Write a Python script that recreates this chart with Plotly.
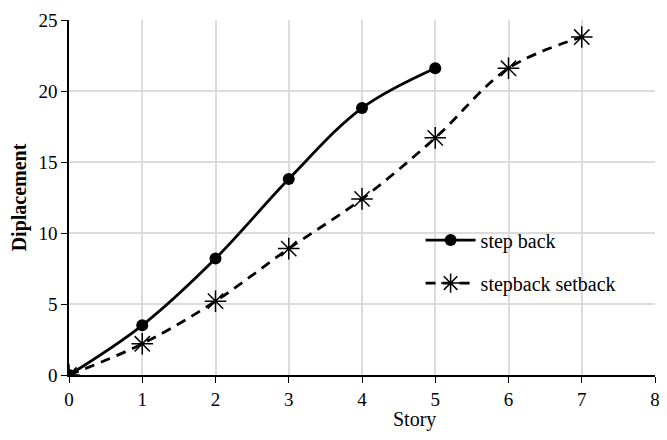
import plotly.graph_objects as go

stories_a = [0, 1, 2, 3, 4, 5]
step_back = [0, 3.5, 8.2, 13.8, 18.8, 21.6]
stories_b = [0, 1, 2, 3, 4, 5, 6, 7]
stepback_setback = [0, 2.2, 5.2, 8.9, 12.4, 16.7, 21.6, 23.8]

fig = go.Figure()
fig.add_trace(go.Scatter(x=stories_a, y=step_back, name="step back", legendgroup="a",
                         mode="lines+markers", line=dict(color="black", width=2.8, shape="spline"),
                         marker=dict(symbol="circle", size=12, color="black")))
fig.add_trace(go.Scatter(x=stories_b, y=stepback_setback, name="stepback setback", legendgroup="b",
                         mode="lines+markers", line=dict(color="black", width=2.8, shape="spline", dash="10px,7px"),
                         marker=dict(symbol="asterisk-open", size=18, color="black", line=dict(color="black", width=1.5))))

font = "Liberation Serif, Times New Roman, serif"
fig.update_layout(
    width=651, height=424, margin=dict(l=61, r=4, t=12, b=57),
    paper_bgcolor="white", plot_bgcolor="white",
    font=dict(family=font, size=19, color="black"),
    showlegend=True,
    legend=dict(x=0.6, y=0.435, xanchor="left", yanchor="top", bgcolor="rgba(0,0,0,0)",
                font=dict(size=20), itemwidth=50, traceorder="grouped", tracegroupgap=14),
    xaxis=dict(range=[0, 8], dtick=1, showgrid=True, gridcolor="#dcdcdc", gridwidth=1.5,
               showline=True, linecolor="black", linewidth=1.5, ticks="outside", ticklen=6,
               tickcolor="black", zeroline=False, automargin=False, ticklabeloverflow="allow"),
    yaxis=dict(range=[0, 25], dtick=5, showgrid=True, gridcolor="#dcdcdc", gridwidth=1.5,
               showline=True, linecolor="black", linewidth=1.5, ticks="outside", ticklen=6,
               tickcolor="black", zeroline=False, automargin=False,
               title=dict(text="<b>Diplacement</b>", font=dict(size=20), standoff=6)),
)
fig.add_annotation(text="Story", x=0.59, y=-0.125, xref="paper", yref="paper",
                   showarrow=False, font=dict(size=20, family=font), xanchor="center", yanchor="middle")
fig.write_html("out.html")
